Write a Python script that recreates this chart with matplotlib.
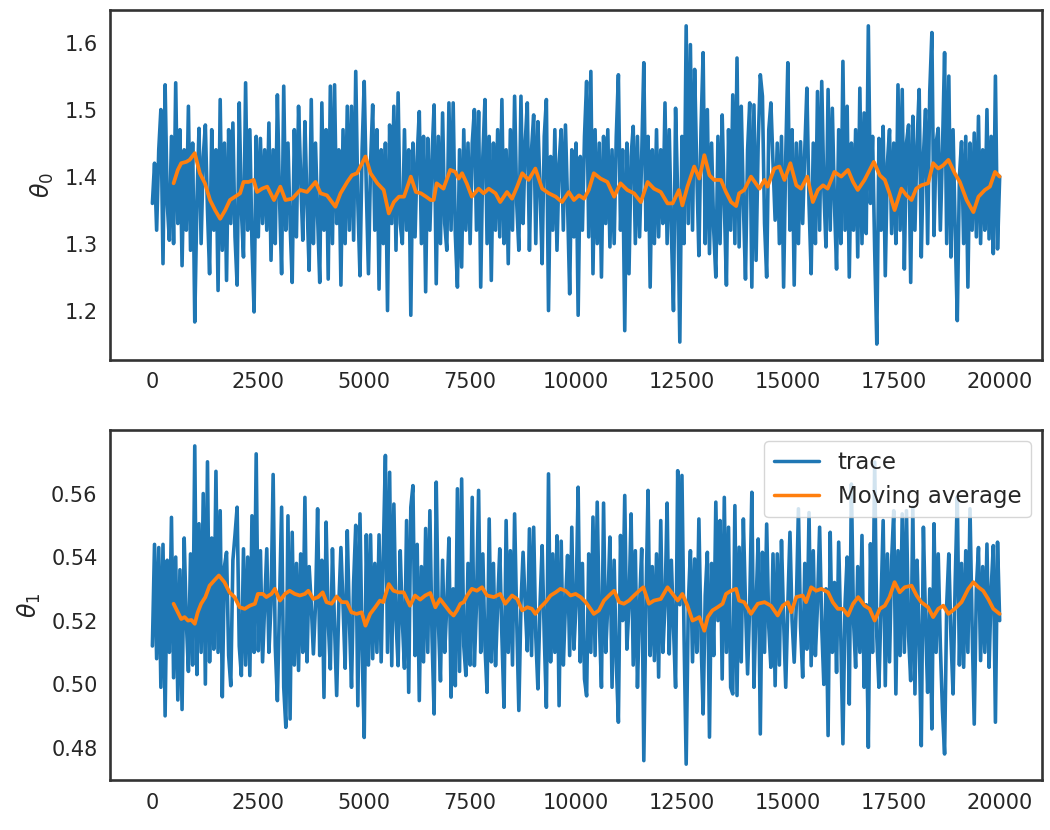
import numpy as np
import seaborn as sns
from matplotlib import pyplot as plt

# iterations of the chain (one value every 50 steps)
steps = np.arange(0, 20001, 50)

theta0 = [
    1.36, 1.42, 1.32, 1.44, 1.50, 1.27, 1.537, 1.36, 1.305, 1.46,
    1.30, 1.54, 1.33, 1.47, 1.267, 1.44, 1.32, 1.505, 1.29, 1.45,
    1.183, 1.36, 1.472, 1.30, 1.43, 1.477, 1.35, 1.255, 1.47, 1.32,
    1.44, 1.23, 1.515, 1.29, 1.45, 1.245, 1.47, 1.33, 1.48, 1.31,
    1.238, 1.51, 1.35, 1.28, 1.54, 1.32, 1.47, 1.30, 1.198, 1.46,
    1.31, 1.457, 1.33, 1.44, 1.32, 1.48, 1.275, 1.44, 1.30, 1.522,
    1.37, 1.255, 1.535, 1.32, 1.45, 1.33, 1.242, 1.47, 1.31, 1.505,
    1.40, 1.305, 1.482, 1.36, 1.26, 1.515, 1.30, 1.45, 1.34, 1.242,
    1.51, 1.32, 1.47, 1.247, 1.535, 1.30, 1.537, 1.33, 1.44, 1.238,
    1.47, 1.30, 1.505, 1.32, 1.505, 1.305, 1.557, 1.36, 1.252, 1.44,
    1.542, 1.38, 1.255, 1.42, 1.507, 1.32, 1.47, 1.232, 1.44, 1.30,
    1.45, 1.20, 1.477, 1.33, 1.505, 1.29, 1.525, 1.33, 1.30, 1.47,
    1.32, 1.44, 1.193, 1.45, 1.31, 1.43, 1.497, 1.30, 1.46, 1.228,
    1.457, 1.32, 1.43, 1.507, 1.24, 1.46, 1.30, 1.495, 1.33, 1.29,
    1.51, 1.32, 1.51, 1.315, 1.235, 1.44, 1.265, 1.47, 1.32, 1.45,
    1.30, 1.45, 1.50, 1.32, 1.497, 1.235, 1.43, 1.515, 1.30, 1.46,
    1.245, 1.45, 1.32, 1.47, 1.31, 1.515, 1.30, 1.44, 1.27, 1.47,
    1.32, 1.52, 1.36, 1.29, 1.52, 1.33, 1.45, 1.51, 1.29, 1.44,
    1.492, 1.30, 1.482, 1.38, 1.27, 1.46, 1.515, 1.20, 1.43, 1.32,
    1.47, 1.29, 1.42, 1.47, 1.32, 1.477, 1.36, 1.225, 1.44, 1.31,
    1.45, 1.193, 1.43, 1.32, 1.46, 1.542, 1.31, 1.557, 1.255, 1.47,
    1.30, 1.45, 1.25, 1.46, 1.33, 1.47, 1.295, 1.44, 1.30, 1.46,
    1.552, 1.32, 1.44, 1.17, 1.45, 1.255, 1.43, 1.475, 1.30, 1.46,
    1.31, 1.43, 1.57, 1.32, 1.46, 1.235, 1.44, 1.30, 1.47, 1.31,
    1.44, 1.33, 1.51, 1.30, 1.47, 1.32, 1.20, 1.502, 1.37, 1.153,
    1.46, 1.30, 1.625, 1.33, 1.597, 1.32, 1.56, 1.41, 1.282, 1.47,
    1.585, 1.30, 1.50, 1.285, 1.45, 1.32, 1.25, 1.46, 1.30, 1.492,
    1.36, 1.238, 1.47, 1.32, 1.522, 1.30, 1.577, 1.295, 1.505, 1.36,
    1.247, 1.44, 1.51, 1.235, 1.507, 1.275, 1.45, 1.552, 1.52, 1.33,
    1.25, 1.47, 1.51, 1.42, 1.335, 1.45, 1.30, 1.46, 1.235, 1.43,
    1.57, 1.32, 1.47, 1.238, 1.45, 1.30, 1.452, 1.33, 1.44, 1.532,
    1.36, 1.255, 1.45, 1.30, 1.527, 1.32, 1.542, 1.38, 1.295, 1.53,
    1.32, 1.502, 1.36, 1.262, 1.47, 1.30, 1.572, 1.32, 1.505, 1.25,
    1.45, 1.32, 1.47, 1.28, 1.532, 1.30, 1.495, 1.315, 1.625, 1.36,
    1.46, 1.29, 1.15, 1.457, 1.32, 1.475, 1.252, 1.42, 1.47, 1.315,
    1.45, 1.30, 1.537, 1.32, 1.53, 1.262, 1.45, 1.477, 1.242, 1.49,
    1.32, 1.45, 1.53, 1.28, 1.43, 1.50, 1.30, 1.527, 1.615, 1.312,
    1.45, 1.472, 1.32, 1.44, 1.585, 1.30, 1.55, 1.28, 1.47, 1.32,
    1.185, 1.40, 1.452, 1.30, 1.46, 1.235, 1.45, 1.32, 1.465, 1.31,
    1.49, 1.30, 1.44, 1.32, 1.50, 1.307, 1.46, 1.285, 1.55, 1.292,
    1.40,
]

theta1 = [
    0.512, 0.544, 0.508, 0.543, 0.499, 0.544, 0.49, 0.539, 0.510, 0.5525,
    0.502, 0.540, 0.495, 0.536, 0.492, 0.546, 0.52, 0.504, 0.541, 0.506,
    0.575, 0.503, 0.5505, 0.510, 0.560, 0.500, 0.570, 0.507, 0.546, 0.511,
    0.567, 0.51, 0.5546, 0.496, 0.537, 0.5415, 0.509, 0.4995, 0.539, 0.547,
    0.5557, 0.512, 0.5027, 0.5426, 0.506, 0.540, 0.5027, 0.553, 0.510, 0.5725,
    0.5105, 0.542, 0.507, 0.525, 0.5426, 0.510, 0.525, 0.566, 0.512, 0.4948,
    0.525, 0.5557, 0.499, 0.4864, 0.553, 0.489, 0.5478, 0.506, 0.538, 0.5043,
    0.541, 0.510, 0.5588, 0.507, 0.537, 0.525, 0.5095, 0.525, 0.5552, 0.509,
    0.539, 0.4958, 0.551, 0.52, 0.5048, 0.5426, 0.518, 0.4964, 0.525, 0.543,
    0.525, 0.505, 0.5483, 0.52, 0.499, 0.532, 0.550, 0.4932, 0.5536, 0.511,
    0.4832, 0.547, 0.506, 0.547, 0.508, 0.538, 0.510, 0.547, 0.507, 0.541,
    0.572, 0.51, 0.5667, 0.5058, 0.5567, 0.52, 0.5058, 0.542, 0.52, 0.505,
    0.5515, 0.4974, 0.5557, 0.5625, 0.509, 0.544, 0.4948, 0.537, 0.507, 0.549,
    0.51, 0.5546, 0.515, 0.4906, 0.5636, 0.52, 0.501, 0.539, 0.510, 0.525,
    0.546, 0.4959, 0.53, 0.4995, 0.5615, 0.504, 0.5646, 0.512, 0.5027, 0.538,
    0.506, 0.5588, 0.5058, 0.525, 0.561, 0.510, 0.541, 0.512, 0.4974, 0.552,
    0.507, 0.538, 0.5058, 0.525, 0.5426, 0.515, 0.4927, 0.5515, 0.510, 0.542,
    0.506, 0.5536, 0.52, 0.4917, 0.525, 0.5415, 0.525, 0.5105, 0.5489, 0.509,
    0.5494, 0.515, 0.4985, 0.525, 0.5436, 0.515, 0.4927, 0.5662, 0.507, 0.541,
    0.510, 0.5467, 0.4932, 0.545, 0.506, 0.525, 0.5405, 0.509, 0.5494, 0.511,
    0.525, 0.562, 0.507, 0.538, 0.5016, 0.4963, 0.541, 0.51, 0.5526, 0.509,
    0.5573, 0.52, 0.499, 0.557, 0.510, 0.525, 0.5463, 0.499, 0.539, 0.507,
    0.488, 0.5468, 0.52, 0.5594, 0.511, 0.525, 0.5536, 0.506, 0.542, 0.499,
    0.525, 0.5426, 0.4759, 0.525, 0.561, 0.509, 0.537, 0.5074, 0.541, 0.5022,
    0.5515, 0.510, 0.525, 0.557, 0.5095, 0.539, 0.518, 0.499, 0.5672, 0.525,
    0.5657, 0.515, 0.4748, 0.525, 0.542, 0.507, 0.5394, 0.510, 0.552, 0.515,
    0.4906, 0.528, 0.5415, 0.4833, 0.538, 0.509, 0.5573, 0.52, 0.5515, 0.5016,
    0.5588, 0.51, 0.5494, 0.499, 0.4969, 0.5562, 0.4964, 0.5431, 0.507, 0.552,
    0.525, 0.5032, 0.525, 0.5604, 0.499, 0.525, 0.5457, 0.4843, 0.5415, 0.510,
    0.5504, 0.518, 0.5053, 0.541, 0.4995, 0.541, 0.506, 0.5452, 0.52, 0.499,
    0.525, 0.5478, 0.52, 0.5069, 0.525, 0.5552, 0.518, 0.5022, 0.538, 0.511,
    0.554, 0.5058, 0.542, 0.509, 0.525, 0.5494, 0.518, 0.4999, 0.530, 0.4838,
    0.5478, 0.510, 0.532, 0.5037, 0.5447, 0.515, 0.4812, 0.525, 0.540, 0.4937,
    0.563, 0.52, 0.5053, 0.537, 0.510, 0.5468, 0.499, 0.525, 0.4801, 0.5442,
    0.51, 0.5699, 0.515, 0.499, 0.525, 0.5515, 0.4995, 0.541, 0.507, 0.539,
    0.5546, 0.4969, 0.542, 0.509, 0.5536, 0.51, 0.5546, 0.515, 0.5011, 0.5557,
    0.4969, 0.539, 0.515, 0.4806, 0.5494, 0.52, 0.4974, 0.530, 0.4859, 0.5505,
    0.510, 0.541, 0.512, 0.4917, 0.478, 0.525, 0.541, 0.515, 0.4969, 0.532,
    0.5589, 0.506, 0.538, 0.5053, 0.542, 0.510, 0.5552, 0.518, 0.4874, 0.53,
    0.543, 0.5074, 0.537, 0.510, 0.5441, 0.5053, 0.53, 0.5436, 0.488, 0.5447,
    0.52,
]

# moving average
ma0_steps = [
    500, 600, 680, 800, 880, 1000, 1120, 1240, 1360, 1480, 1600, 1720, 1830,
    1950, 2070, 2150, 2270, 2390, 2470, 2590, 2710, 2870, 3020, 3140, 3300,
    3490, 3650, 3850, 3970, 4120, 4320, 4440, 4600, 4710, 4830, 5030, 5150,
    5310, 5460, 5580, 5700, 5820, 5940, 6100, 6220, 6340, 6460, 6570, 6640,
    6710, 6870, 7030, 7150, 7230, 7310, 7420, 7540, 7700, 7820, 7940, 8100,
    8210, 8370, 8490, 8610, 8730, 8880, 9040, 9200, 9360, 9520, 9670, 9830,
    9950, 10070, 10190, 10300, 10420, 10580, 10740, 10900, 11050, 11210,
    11370, 11530, 11690, 11840, 12000, 12160, 12280, 12430, 12510, 12630,
    12790, 12910, 13030, 13150, 13260, 13420, 13540, 13660, 13780, 13850,
    13970, 14130, 14330, 14450, 14520, 14680, 14800, 14920, 15060, 15200,
    15310, 15460, 15590, 15710, 15830, 15940, 16100, 16260, 16420, 16540,
    16650, 16810, 17030, 17170, 17290, 17400, 17520, 17680, 17800, 17920,
    18030, 18150, 18310, 18430, 18550, 18670, 18790, 18940, 19060, 19220,
    19380, 19500, 19650, 19770, 19890, 20000,
]
ma0 = [
    1.390, 1.410, 1.420, 1.422, 1.425, 1.435, 1.405, 1.390, 1.365, 1.350,
    1.337, 1.350, 1.365, 1.370, 1.375, 1.392, 1.392, 1.395, 1.377, 1.382,
    1.385, 1.365, 1.385, 1.365, 1.367, 1.380, 1.377, 1.392, 1.375, 1.372,
    1.355, 1.375, 1.392, 1.402, 1.405, 1.430, 1.405, 1.390, 1.380, 1.345,
    1.362, 1.370, 1.370, 1.400, 1.377, 1.375, 1.370, 1.365, 1.365, 1.390,
    1.382, 1.410, 1.407, 1.397, 1.405, 1.390, 1.370, 1.382, 1.375, 1.382,
    1.375, 1.362, 1.377, 1.367, 1.385, 1.405, 1.395, 1.412, 1.382, 1.375,
    1.370, 1.362, 1.377, 1.365, 1.372, 1.367, 1.380, 1.405, 1.397, 1.392,
    1.370, 1.390, 1.380, 1.375, 1.362, 1.392, 1.382, 1.377, 1.360, 1.360,
    1.380, 1.357, 1.385, 1.415, 1.397, 1.432, 1.402, 1.395, 1.395, 1.377,
    1.362, 1.356, 1.375, 1.380, 1.400, 1.382, 1.395, 1.385, 1.412, 1.415,
    1.395, 1.420, 1.387, 1.382, 1.400, 1.362, 1.380, 1.387, 1.382, 1.407,
    1.400, 1.410, 1.392, 1.380, 1.395, 1.422, 1.402, 1.395, 1.375, 1.350,
    1.382, 1.372, 1.365, 1.382, 1.387, 1.390, 1.420, 1.412, 1.417, 1.425,
    1.405, 1.392, 1.365, 1.347, 1.370, 1.380, 1.385, 1.407, 1.400,
]

ma1_steps = [
    500, 600, 680, 760, 840, 920, 1000, 1070, 1150, 1250, 1350, 1470, 1570,
    1700, 1820, 1940, 2060, 2180, 2300, 2420, 2490, 2610, 2690, 2810, 2890,
    3010, 3130, 3240, 3360, 3480, 3600, 3680, 3800, 3910, 4020, 4110, 4230,
    4350, 4470, 4590, 4700, 4820, 4940, 5030, 5140, 5260, 5370, 5450, 5580,
    5690, 5810, 5930, 6080, 6200, 6320, 6440, 6560, 6680, 6790, 6910, 7030,
    7110, 7190, 7270, 7350, 7430, 7540, 7660, 7780, 7900, 8060, 8210, 8330,
    8490, 8610, 8730, 8850, 8960, 9040, 9160, 9280, 9400, 9520, 9630, 9750,
    9870, 9990, 10110, 10230, 10340, 10420, 10540, 10660, 10780, 10900,
    11020, 11130, 11250, 11370, 11490, 11590, 11720, 11840, 12000, 12160,
    12280, 12400, 12510, 12630, 12750, 12830, 12910, 13030, 13110, 13220,
    13340, 13460, 13540, 13660, 13780, 13850, 13970, 14130, 14290, 14450,
    14600, 14760, 14880, 15000, 15080, 15200, 15350, 15430, 15550, 15670,
    15790, 15950, 16060, 16180, 16300, 16420, 16540, 16660, 16810, 16930,
    17050, 17170, 17290, 17400, 17520, 17640, 17760, 17920, 18040, 18150,
    18310, 18430, 18550, 18670, 18790, 18940, 19100, 19260, 19380, 19500,
    19610, 19730, 19850, 20000,
]
ma1 = [
    0.5253, 0.5226, 0.5205, 0.5211, 0.5200, 0.5202, 0.5190, 0.5226, 0.5253,
    0.5274, 0.5310, 0.5328, 0.5342, 0.5321, 0.5289, 0.5274, 0.5242, 0.5237,
    0.5247, 0.5253, 0.5284, 0.5284, 0.5274, 0.5284, 0.5300, 0.5263, 0.5284,
    0.5294, 0.5284, 0.5279, 0.5284, 0.5294, 0.5268, 0.5274, 0.5289, 0.5258,
    0.5253, 0.5276, 0.5258, 0.5258, 0.5226, 0.5221, 0.5226, 0.5184, 0.5221,
    0.5242, 0.5263, 0.5258, 0.5315, 0.5294, 0.5289, 0.5289, 0.5247, 0.5279,
    0.5266, 0.5279, 0.5287, 0.5242, 0.5268, 0.5247, 0.5226, 0.5216, 0.5232,
    0.5253, 0.5258, 0.5279, 0.5300, 0.5294, 0.5305, 0.5279, 0.5274, 0.5284,
    0.5253, 0.5279, 0.5268, 0.5232, 0.5242, 0.5237, 0.5221, 0.5242, 0.5258,
    0.5279, 0.5289, 0.5300, 0.5294, 0.5279, 0.5284, 0.5274, 0.5258, 0.5237,
    0.5221, 0.5232, 0.5263, 0.5279, 0.5294, 0.5258, 0.5253, 0.5263, 0.5279,
    0.5294, 0.5305, 0.5253, 0.5263, 0.5268, 0.5305, 0.5284, 0.5263, 0.5284,
    0.5247, 0.5200, 0.5205, 0.5211, 0.5168, 0.5211, 0.5232, 0.5242, 0.5253,
    0.5284, 0.5294, 0.5300, 0.5263, 0.5258, 0.5221, 0.5253, 0.5258, 0.5247,
    0.5216, 0.5247, 0.5258, 0.5226, 0.5274, 0.5279, 0.5258, 0.5305, 0.5294,
    0.5300, 0.5289, 0.5258, 0.5237, 0.5237, 0.5216, 0.5253, 0.5274, 0.5247,
    0.5237, 0.5200, 0.5237, 0.5247, 0.5274, 0.5321, 0.5289, 0.5305, 0.5310,
    0.5279, 0.5258, 0.5242, 0.5211, 0.5237, 0.5247, 0.5221, 0.5237, 0.5258,
    0.5300, 0.5321, 0.5305, 0.5294, 0.5268, 0.5237, 0.5221,
]

sns.set_theme(style='white')
plt.rcParams['font.family'] = ['DejaVu Sans']

fig = plt.figure(figsize=(10.5, 8.3), dpi=100)
ax0 = fig.add_axes([0.1048, 0.5663, 0.8876, 0.4217])
ax1 = fig.add_axes([0.1048, 0.0602, 0.8876, 0.4217])

for ax, trace, ma_x, ma_y, label in [
    (ax0, theta0, ma0_steps, ma0, r'$\theta_0$'),
    (ax1, theta1, ma1_steps, ma1, r'$\theta_1$'),
]:
    ax.plot(steps, trace, color='#1f77b4', lw=2.6, label='trace')
    ax.plot(ma_x, ma_y, color='#ff7f0e', lw=2.7, label='Moving average')
    ax.set_ylabel(label, fontsize=17, labelpad=6)
    ax.tick_params(labelsize=15, length=0, pad=9, colors='#262626')
    for s in ax.spines.values():
        s.set_color('#333333')
        s.set_linewidth(1.9)

ax0.set_yticks([1.2, 1.3, 1.4, 1.5, 1.6])
ax1.set_yticks([0.48, 0.50, 0.52, 0.54, 0.56])
for ax in (ax0, ax1):
    ax.set_xticks([0, 2500, 5000, 7500, 10000, 12500, 15000, 17500, 20000])

leg = ax1.legend(loc='upper right', fontsize=16.5, framealpha=0.8)
for line in leg.get_lines():
    line.set_linewidth(2.5)

fig.savefig('out.png', dpi=100)
